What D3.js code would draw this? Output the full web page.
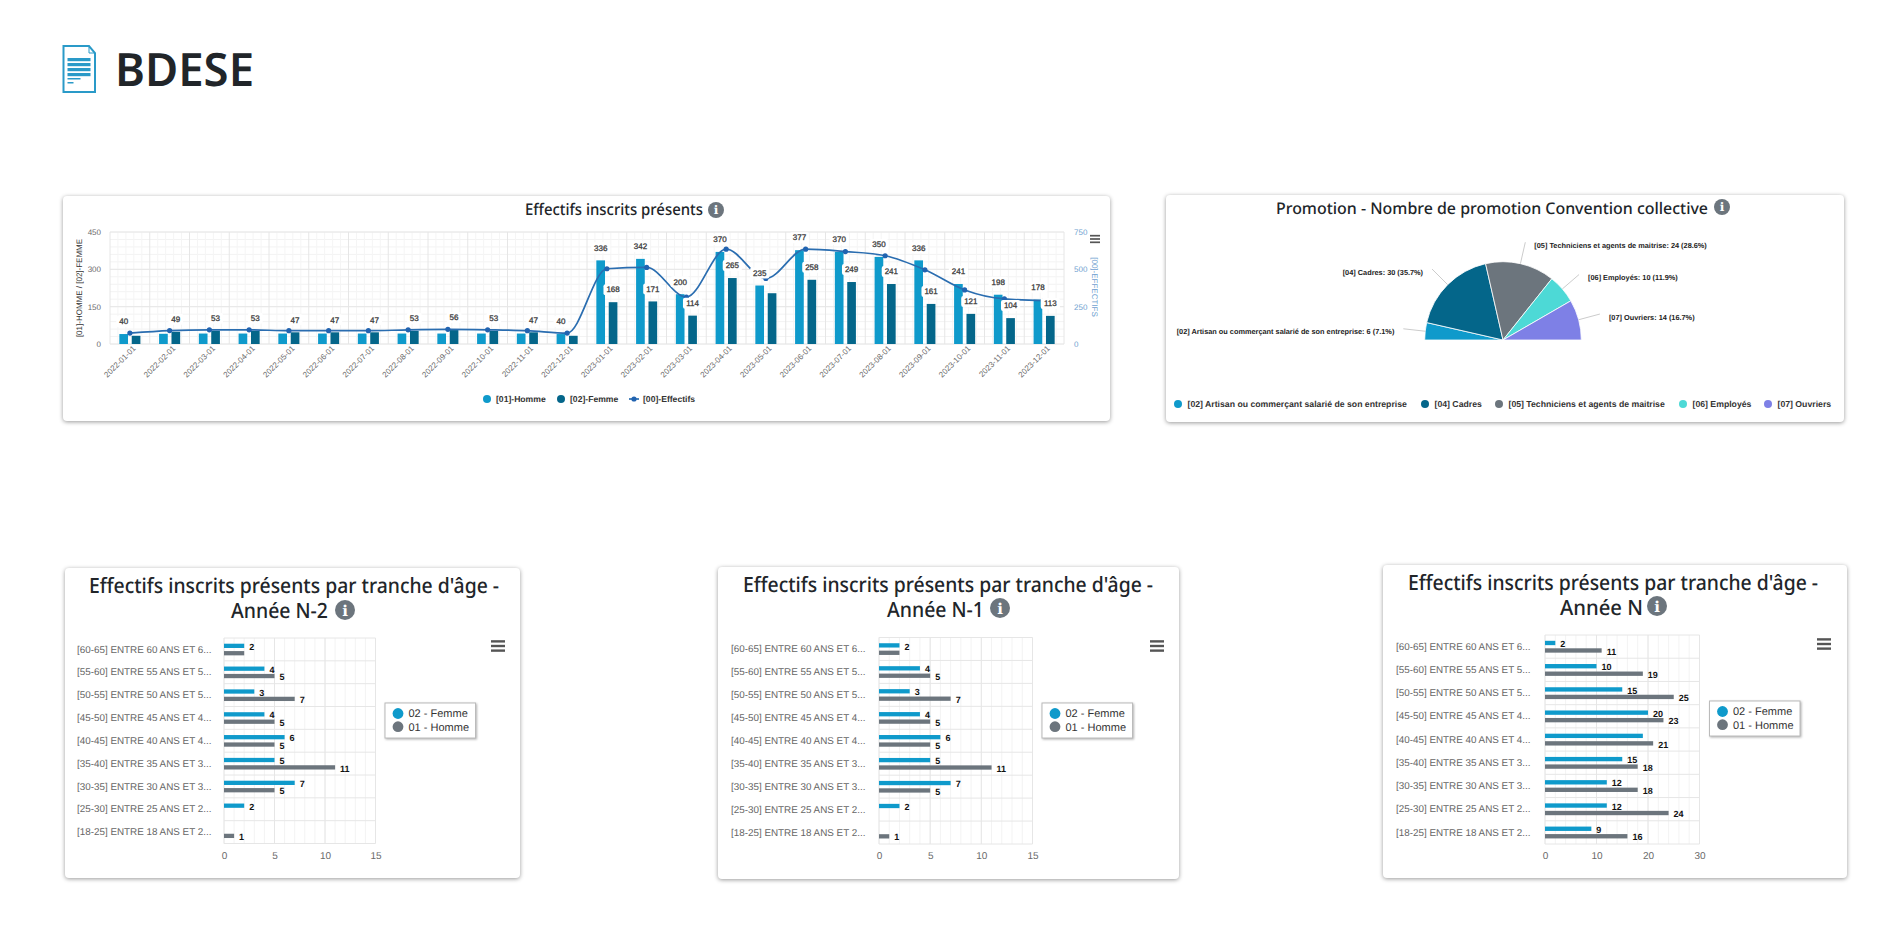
<!DOCTYPE html>
<html lang="fr">
<head>
<meta charset="utf-8">
<title>BDESE</title>
<script src="https://cdn.jsdelivr.net/npm/d3@7"></script>
<style>
  html, body { margin: 0; background: #fff; }
  svg { display: block; text-rendering: geometricPrecision; }
  text { font-family: "Liberation Sans", Arial, sans-serif; }
  .title { font-family: "Noto Sans", sans-serif; fill: #212529; font-weight: 500; }
  .card { fill: #fff; filter: drop-shadow(0 1px 2px rgba(0,0,0,.4)); }
</style>
</head>
<body>
<svg id="page" width="1895" height="927"></svg>
<script>
// effectifs mensuels
const months = ["2022-01-01","2022-02-01","2022-03-01","2022-04-01","2022-05-01","2022-06-01","2022-07-01","2022-08-01","2022-09-01","2022-10-01","2022-11-01","2022-12-01","2023-01-01","2023-02-01","2023-03-01","2023-04-01","2023-05-01","2023-06-01","2023-07-01","2023-08-01","2023-09-01","2023-10-01","2023-11-01","2023-12-01"];
const hommes = [40,41,42,42,42,42,42,42,42,42,42,40,336,342,200,370,235,377,370,350,336,241,198,178];
const femmes = [33,49,53,53,47,47,47,53,56,53,47,33,168,171,114,265,204,258,249,241,161,121,104,113];
const effectifs = [73,90,95,95,89,89,89,95,98,95,89,73,504,513,314,635,439,635,619,591,497,362,302,291];

// promotions
const promoLabels = ["[02] Artisan ou commerçant salarié de son entreprise","[04] Cadres","[05] Techniciens et agents de maitrise","[06] Employés","[07] Ouvriers"];
const promoValues = [6,30,24,10,14];
const promoColors = ["#0f9acb","#04668a","#6c757d","#4dd9d6","#7e80e6"];

// tranches d'age
const tranches = ["[60-65] ENTRE 60 ANS ET 6...","[55-60] ENTRE 55 ANS ET 5...","[50-55] ENTRE 50 ANS ET 5...","[45-50] ENTRE 45 ANS ET 4...","[40-45] ENTRE 40 ANS ET 4...","[35-40] ENTRE 35 ANS ET 3...","[30-35] ENTRE 30 ANS ET 3...","[25-30] ENTRE 25 ANS ET 2...","[18-25] ENTRE 18 ANS ET 2..."];
const femmeN2 = [2,4,3,4,6,5,7,2,0];
const hommeN2 = [2,5,7,5,5,11,5,0,1];
const femmeN1 = [2,4,3,4,6,5,7,2,0];
const hommeN1 = [2,5,7,5,5,11,5,0,1];
const femmeN = [2,10,15,20,19,15,12,12,9];
const hommeN = [11,19,25,23,21,18,18,24,16];

const blue = "#0f9acb", dark = "#04668a", grey = "#6c757d", lineBlue = "#2a6db0";

const svg = d3.select("#page");

function card(x0, y0, x1, y1) {
  svg.append("rect").attr("class", "card")
    .attr("x", x0).attr("y", y0).attr("width", x1 - x0).attr("height", y1 - y0).attr("rx", 4);
}

function infoIcon(cx, cy, r) {
  svg.append("circle").attr("cx", cx).attr("cy", cy).attr("r", r).attr("fill", grey);
  svg.append("text").attr("x", cx).attr("y", cy + r * 0.55)
    .attr("text-anchor", "middle").attr("fill", "#fff")
    .style("font-family", "DejaVu Serif").style("font-weight", 700).style("font-size", r * 1.5 + "px")
    .text("i");
}

function burger(cx, cy, w) {
  [-1, 0, 1].forEach(i => {
    svg.append("line").attr("x1", cx - w / 2).attr("x2", cx + w / 2)
      .attr("y1", cy + i * w * 0.33).attr("y2", cy + i * w * 0.33)
      .attr("stroke", "#555").attr("stroke-width", w * 0.17);
  });
}

function title(str, x, y, size, len) {
  svg.append("text").attr("class", "title").attr("x", x).attr("y", y)
    .attr("textLength", len).attr("lengthAdjust", "spacingAndGlyphs")
    .style("font-size", size + "px").text(str);
}

// en-tete
svg.append("text").attr("class", "title").attr("x", 115).attr("y", 86)
  .attr("textLength", 139).attr("lengthAdjust", "spacingAndGlyphs")
  .style("font-size", "46px").style("font-weight", 600).text("BDESE");
const doc = svg.append("g").attr("fill", "none").attr("stroke", "#2a9ac8");
doc.append("path").attr("stroke-width", 2).attr("d", "M63.5 46H89L95 53V92H63.5Z");
doc.append("path").attr("stroke-width", 1).attr("d", "M89 46V53H95");
[58, 63, 68, 73].forEach(y => doc.append("rect").attr("x", 67.5).attr("y", y).attr("width", 23).attr("height", 3.2).attr("fill", "#2a9ac8").attr("stroke", "none"));
[78, 82].forEach((y, i) => doc.append("rect").attr("x", 67.5).attr("y", y).attr("width", i ? 6 : 13).attr("height", 1.5).attr("fill", "#2a9ac8").attr("stroke", "none"));

// ---- effectifs inscrits presents
function drawEffectifs() {
  card(63, 196, 1110, 421);
  title("Effectifs inscrits présents", 525, 215, 16, 178);
  infoIcon(716, 210, 8);
  burger(1095, 239, 10);

  const plot = { left: 110, right: 1064, top: 232, bottom: 344 };
  const x = d3.scaleBand().domain(months).range([plot.left, plot.right]);
  const xSerie = d3.scaleBand().domain(["h", "f"])
    .range([x.bandwidth() * 0.235, x.bandwidth() * 0.765]).paddingInner(0.3);
  const y = d3.scaleLinear().domain([0, 450]).range([plot.bottom, plot.top]);
  const y2 = d3.scaleLinear().domain([0, 750]).range([plot.bottom, plot.top]);

  // grille
  const grid = svg.append("g");
  grid.selectAll(".minorY").data(d3.range(0, 451, 30)).join("line")
    .attr("x1", plot.left).attr("x2", plot.right).attr("y1", d => y(d)).attr("y2", d => y(d))
    .attr("stroke", "#f3f3f3");
  const minorX = [];
  months.forEach(m => d3.range(1, 5).forEach(i => minorX.push(x(m) + x.bandwidth() * i / 5)));
  grid.selectAll(".minorX").data(minorX).join("line")
    .attr("x1", d => d).attr("x2", d => d).attr("y1", plot.top).attr("y2", plot.bottom)
    .attr("stroke", "#f5f5f5");
  grid.selectAll(".majorY").data([0, 150, 300, 450]).join("line")
    .attr("x1", plot.left).attr("x2", plot.right).attr("y1", d => y(d)).attr("y2", d => y(d))
    .attr("stroke", "#e6e6e6");
  grid.selectAll(".majorX").data(months.concat("end")).join("line")
    .attr("x1", d => d === "end" ? plot.right : x(d)).attr("x2", d => d === "end" ? plot.right : x(d))
    .attr("y1", plot.top).attr("y2", plot.bottom).attr("stroke", "#e6e6e6");

  // axes
  const axX = svg.append("g").attr("transform", `translate(0,${plot.bottom})`)
    .call(d3.axisBottom(x).tickSize(0));
  axX.select(".domain").remove();
  axX.selectAll("text").attr("text-anchor", "end").attr("fill", "#6a6a6a").style("font-size", "8px")
    .attr("dx", "1px").attr("dy", "5px").attr("transform", "rotate(-45)");
  const axL = svg.append("g").attr("transform", `translate(${plot.left - 9},0)`)
    .call(d3.axisLeft(y).tickValues([0, 150, 300, 450]).tickSize(0).tickPadding(0));
  axL.select(".domain").remove();
  axL.selectAll("text").attr("fill", "#6a6a6a").style("font-size", "8px");
  const axR = svg.append("g").attr("transform", `translate(${plot.right + 10},0)`)
    .call(d3.axisRight(y2).tickValues([0, 250, 500, 750]).tickSize(0).tickPadding(0));
  axR.select(".domain").remove();
  axR.selectAll("text").attr("fill", "#6f9fd0").style("font-size", "8px");

  svg.append("text").attr("transform", "translate(82,288) rotate(-90)").attr("text-anchor", "middle")
    .attr("fill", "#333").style("font-size", "8px").text("[01]-HOMME / [02]-FEMME");
  svg.append("text").attr("transform", "translate(1092,287) rotate(90)").attr("text-anchor", "middle")
    .attr("fill", "#6f9fd0").style("font-size", "8px").text("[00]-EFFECTIFS");

  // barres
  const rows = months.map((m, i) => ({ m, h: hommes[i], f: femmes[i], e: effectifs[i] }));
  svg.append("g").selectAll("rect").data(rows).join("rect")
    .attr("x", d => x(d.m) + xSerie("h")).attr("width", xSerie.bandwidth())
    .attr("y", d => y(d.h)).attr("height", d => y(0) - y(d.h)).attr("fill", blue);
  svg.append("g").selectAll("rect").data(rows).join("rect")
    .attr("x", d => x(d.m) + xSerie("f")).attr("width", xSerie.bandwidth())
    .attr("y", d => y(d.f)).attr("height", d => y(0) - y(d.f)).attr("fill", dark);

  // courbe
  const cx = d => x(d.m) + x.bandwidth() / 2;
  const line = d3.line().x(cx).y(d => y2(d.e)).curve(d3.curveMonotoneX);
  svg.append("path").datum(rows).attr("d", line).attr("fill", "none")
    .attr("stroke", lineBlue).attr("stroke-width", 1.7);
  svg.append("g").selectAll("circle").data(rows).join("circle")
    .attr("cx", cx).attr("cy", d => y2(d.e)).attr("r", 2.6).attr("fill", "#2163b0");

  // etiquettes : la plus basse saute quand les deux se touchent
  const labels = [];
  rows.forEach(d => {
    const close = Math.abs(y(d.h) - y(d.f)) < 10;
    if (!close || d.h >= d.f) labels.push({ m: d.m, s: "h", v: d.h });
    if (!close || d.f > d.h) labels.push({ m: d.m, s: "f", v: d.f });
  });
  const lab = svg.append("g").selectAll("g").data(labels).join("g")
    .attr("transform", d => `translate(${x(d.m) + xSerie(d.s) + xSerie.bandwidth() / 2},${y(d.v) - 12.5})`);
  lab.append("rect").attr("x", d => -String(d.v).length * 2.2 - 3).attr("y", -5.5)
    .attr("width", d => String(d.v).length * 4.4 + 6).attr("height", 11).attr("rx", 2).attr("fill", "#fff");
  lab.append("text").attr("text-anchor", "middle").attr("dy", "0.35em")
    .attr("fill", "#333").attr("stroke", "#444").attr("stroke-width", 0.3)
    .style("font-size", "8px").text(d => d.v);

  // legende
  const legY = 399;
  [[487, 496, blue, "[01]-Homme"], [561, 570, dark, "[02]-Femme"]].forEach(l => {
    svg.append("circle").attr("cx", l[0]).attr("cy", legY).attr("r", 4).attr("fill", l[2]);
    svg.append("text").attr("x", l[1]).attr("y", legY).attr("dy", "0.35em").attr("fill", "#333")
      .style("font-size", "8.6px").style("font-weight", 700).text(l[3]);
  });
  svg.append("line").attr("x1", 629).attr("x2", 639).attr("y1", legY).attr("y2", legY).attr("stroke", lineBlue).attr("stroke-width", 1.7);
  svg.append("circle").attr("cx", 634).attr("cy", legY).attr("r", 2.6).attr("fill", "#2163b0");
  svg.append("text").attr("x", 643).attr("y", legY).attr("dy", "0.35em").attr("fill", "#333")
    .style("font-size", "8.6px").style("font-weight", 700).text("[00]-Effectifs");
}

// ---- promotion
function drawPromotion() {
  card(1166, 195, 1844, 422);
  title("Promotion - Nombre de promotion Convention collective", 1276, 214, 16, 432);
  infoIcon(1722, 207, 8);

  const center = [1503, 340], R = 78.3;
  const total = d3.sum(promoValues);
  const data = promoValues.map((v, i) => ({ v, label: promoLabels[i], color: promoColors[i] }));
  const arcs = d3.pie().value(d => d.v).sort(null).startAngle(-Math.PI / 2).endAngle(Math.PI / 2)(data);
  const arc = d3.arc().innerRadius(0).outerRadius(R);
  const g = svg.append("g").attr("transform", `translate(${center})`);
  g.selectAll("path").data(arcs).join("path").attr("d", arc)
    .attr("fill", d => d.data.color).attr("stroke", "#fff").attr("stroke-width", 0.8);

  arcs.forEach(a => {
    const mid = (a.startAngle + a.endAngle) / 2;
    const p0 = d3.pointRadial(mid, R);
    const p1 = d3.pointRadial(mid, R + 22);
    g.append("line").attr("x1", p0[0]).attr("y1", p0[1]).attr("x2", p1[0]).attr("y2", p1[1])
      .attr("stroke", "#ccc");
    const right = mid > 0;
    g.append("text").attr("x", p1[0] + (right ? 9 : -9)).attr("y", p1[1] + 3).attr("dy", "0.35em")
      .attr("text-anchor", right ? "start" : "end").attr("fill", "#222")
      .style("font-size", "7.35px").style("font-weight", 700)
      .text(`${a.data.label}: ${a.data.v} (${(a.data.v / total * 100).toFixed(1)}%)`);
  });

  const legX = [1178, 1425, 1499, 1683, 1768];
  data.forEach((d, i) => {
    svg.append("circle").attr("cx", legX[i]).attr("cy", 404).attr("r", 4).attr("fill", d.color);
    svg.append("text").attr("x", legX[i] + 9.5).attr("y", 404).attr("dy", "0.35em").attr("fill", "#333")
      .style("font-size", "8.7px").style("font-weight", 700).text(d.label);
  });
}

// ---- tranches d'age
function drawTranches(o) {
  card(o.card[0], o.card[1], o.card[2], o.card[3]);
  title("Effectifs inscrits présents par tranche d'âge -", o.title[0], o.title[1], 21, 410);
  title(o.suffix, o.title2[0], o.title[1] + 24.5, 21, o.title2[1]);
  infoIcon(o.info[0], o.info[1], 10);
  burger(o.burger[0], o.burger[1], 14);

  const p = o.plot;
  const x = d3.scaleLinear().domain([0, o.max]).range([p.left, p.right]);
  const y = d3.scaleBand().domain(tranches).range([p.top, p.bottom]);
  const ys = d3.scaleBand().domain(["f", "h"]).range([y.bandwidth() * 0.25, y.bandwidth() * 0.76]).paddingInner(0.42);

  // grille
  const grid = svg.append("g");
  grid.selectAll(".minor").data(d3.range(0, o.max + 1, o.max / 15)).join("line")
    .attr("x1", d => x(d)).attr("x2", d => x(d)).attr("y1", p.top).attr("y2", p.bottom).attr("stroke", "#f3f3f3");
  grid.selectAll(".major").data(x.ticks(3)).join("line")
    .attr("x1", d => x(d)).attr("x2", d => x(d)).attr("y1", p.top).attr("y2", p.bottom).attr("stroke", "#e6e6e6");
  grid.selectAll(".rows").data(tranches.concat("end")).join("line")
    .attr("x1", p.left).attr("x2", p.right)
    .attr("y1", d => d === "end" ? p.bottom : y(d)).attr("y2", d => d === "end" ? p.bottom : y(d))
    .attr("stroke", "#e6e6e6");

  // axes
  const axX = svg.append("g").attr("transform", `translate(0,${p.bottom})`)
    .call(d3.axisBottom(x).ticks(3).tickSize(0).tickPadding(8));
  axX.select(".domain").remove();
  axX.selectAll("text").attr("fill", "#6a6a6a").style("font-size", "10px");
  const axY = svg.append("g").attr("transform", `translate(${p.left},0)`)
    .call(d3.axisLeft(y).tickSize(0));
  axY.select(".domain").remove();
  axY.selectAll("text").attr("text-anchor", "start").attr("x", o.catX - p.left)
    .attr("fill", "#666").style("font-size", "9.85px");

  // barres et etiquettes
  const rows = tranches.map((t, i) => ({ t, f: o.femme[i], h: o.homme[i] }));
  [["f", blue], ["h", grey]].forEach(([s, color]) => {
    svg.append("g").selectAll("rect").data(rows.filter(d => d[s] > 0)).join("rect")
      .attr("x", p.left).attr("y", d => y(d.t) + ys(s))
      .attr("width", d => x(d[s]) - p.left).attr("height", ys.bandwidth()).attr("fill", color);
  });
  rows.forEach(d => {
    const gap = Math.abs(x(d.f) - x(d.h));
    const close = gap < String(Math.max(d.f, d.h)).length * 5.2;
    [["f", d.f >= d.h], ["h", d.h > d.f]].forEach(([s, keep]) => {
      if (d[s] === 0 || (close && !keep)) return;
      svg.append("text").attr("x", x(d[s]) + 5).attr("y", y(d.t) + ys(s) + ys.bandwidth() / 2 + 1)
        .attr("dy", "0.35em").attr("fill", "#111")
        .style("font-size", "9px").style("font-weight", 700).text(d[s]);
    });
  });

  // legende
  const l = o.legend;
  svg.append("rect").attr("x", l[0]).attr("y", l[1]).attr("width", 90.5).attr("height", 35)
    .attr("fill", "#fff").attr("stroke", "#bbb")
    .style("filter", "drop-shadow(1px 1px 1px rgba(0,0,0,.3))");
  [["02 - Femme", blue, 10.5], ["01 - Homme", grey, 23.7]].forEach(([txt, color, dy]) => {
    svg.append("circle").attr("cx", l[0] + 13).attr("cy", l[1] + dy).attr("r", 5.4).attr("fill", color);
    svg.append("text").attr("x", l[0] + 23.5).attr("y", l[1] + dy).attr("dy", "0.35em")
      .attr("fill", "#333").style("font-size", "11px").text(txt);
  });
}

drawEffectifs();
drawPromotion();
drawTranches({
  card: [65, 568, 520, 878], title: [89, 593], title2: [231, 97], suffix: "Année N-2", info: [345, 610],
  burger: [498, 646], plot: { left: 224, right: 375.5, top: 638, bottom: 843.5 }, catX: 77,
  max: 15, femme: femmeN2, homme: hommeN2, legend: [385, 703]
});
drawTranches({
  card: [718, 567, 1179, 879], title: [743, 592], title2: [887, 97], suffix: "Année N-1", info: [1000, 608],
  burger: [1157, 646], plot: { left: 879, right: 1032.5, top: 637.5, bottom: 844 }, catX: 731,
  max: 15, femme: femmeN1, homme: hommeN1, legend: [1042, 703]
});
drawTranches({
  card: [1383, 565, 1847, 878], title: [1408, 590], title2: [1560, 83], suffix: "Année N", info: [1657, 606],
  burger: [1824, 644], plot: { left: 1545, right: 1699.5, top: 635, bottom: 844 }, catX: 1396,
  max: 30, femme: femmeN, homme: hommeN, legend: [1709.5, 701]
});
</script>
</body>
</html>
